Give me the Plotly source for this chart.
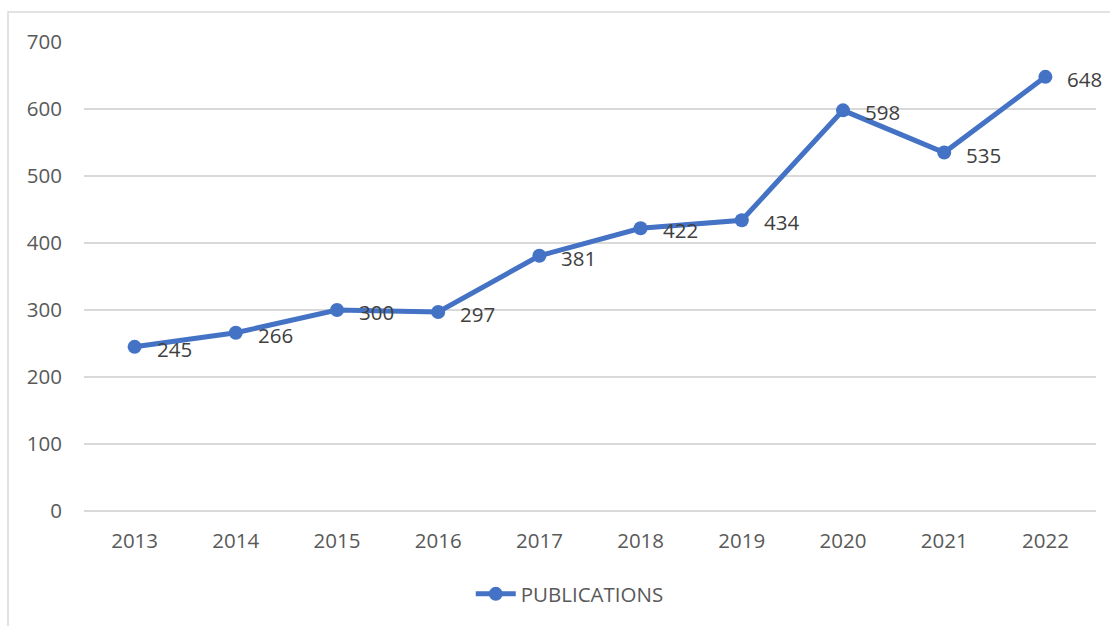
import plotly.graph_objects as go

years = ["2013", "2014", "2015", "2016", "2017", "2018", "2019", "2020", "2021", "2022"]
publications = [245, 266, 300, 297, 381, 422, 434, 598, 535, 648]
series_name = "PUBLICATIONS"
y_ticks = [0, 100, 200, 300, 400, 500, 600, 700]

FONT = "Open Sans"
FS = 20.5
W, H = 1110, 626
L, R, T, B = 84, 14, 42, 115
pw, ph = W - L - R, H - T - B

fig = go.Figure()
fig.add_trace(go.Scatter(
    x=years, y=publications, mode="lines+markers", name=series_name,
    line=dict(color="#4472C4", width=5),
    marker=dict(color="#4472C4", size=14),
    cliponaxis=False,
))

# data labels (category positions are indices on a category axis)
for i, v in enumerate(publications):
    fig.add_annotation(x=i, y=v, text=str(v), showarrow=False,
                       xanchor="left", yanchor="middle", xshift=20, yshift=-2,
                       font=dict(family=FONT, size=FS, color="#404040"))

# outer chart border
fig.add_shape(type="rect", xref="paper", yref="paper",
              x0=(8 - L) / pw, x1=(W + 10 - L) / pw,
              y0=-(H + 10 - (T + ph)) / ph, y1=(T + ph - 12) / ph,
              line=dict(color="#d9d9d9", width=1.5), fillcolor="rgba(0,0,0,0)", layer="below")

fig.update_layout(
    width=W, height=H,
    margin=dict(l=L, r=R, t=T, b=B),
    paper_bgcolor="white", plot_bgcolor="white",
    font=dict(family=FONT, size=FS, color="#595959"),
    showlegend=True,
    legend=dict(orientation="h", x=0.48, xanchor="center", y=-(594 - (T + ph)) / ph,
                yanchor="middle", font=dict(family=FONT, size=FS, color="#595959"),
                itemwidth=40),
    xaxis=dict(type="category", categoryorder="array", categoryarray=years,
               range=[-0.5, len(years) - 0.5],
               showgrid=False, showline=False, zeroline=False,
               ticks="", ticklabelstandoff=15,
               tickfont=dict(family=FONT, size=FS, color="#595959")),
    yaxis=dict(range=[0, 700], tickvals=y_ticks, showgrid=True, gridcolor="#d9d9d9",
               gridwidth=1.5, zeroline=True, zerolinecolor="#d9d9d9", zerolinewidth=1.5,
               showline=False, ticks="", ticklabelstandoff=21,
               tickfont=dict(family=FONT, size=FS, color="#595959")),
)

fig.write_html("out.html")
